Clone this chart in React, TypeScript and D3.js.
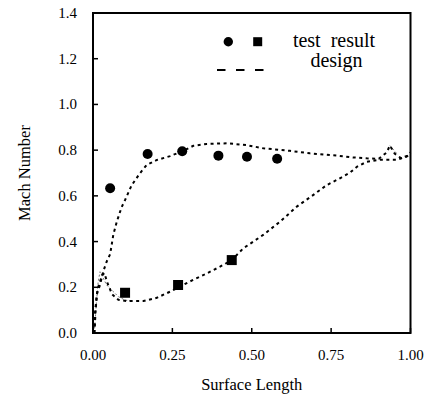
import React from "react";
import * as d3 from "d3";

const xTicks = [0, 0.25, 0.5, 0.75, 1.0];
const yTicks = [0, 0.2, 0.4, 0.6, 0.8, 1.0, 1.2, 1.4];

const testUpperX = [0.054, 0.172, 0.281, 0.395, 0.485, 0.58];
const testUpperY = [0.633, 0.783, 0.795, 0.776, 0.771, 0.762];

const testLowerX = [0.101, 0.268, 0.437];
const testLowerY = [0.176, 0.21, 0.319];

const designUpperX = [0.003, 0.006, 0.012, 0.022, 0.032, 0.043, 0.054, 0.064, 0.075, 0.09, 0.101, 0.122, 0.148, 0.169, 0.201, 0.243, 0.284, 0.316, 0.358, 0.421, 0.484, 0.536, 0.62, 0.683, 0.768, 0.82, 0.862, 0.9, 0.925, 0.935, 0.95, 0.97, 0.99, 1.0];
const designUpperY = [0.0, 0.08, 0.17, 0.21, 0.268, 0.312, 0.345, 0.43, 0.487, 0.55, 0.582, 0.647, 0.699, 0.735, 0.757, 0.774, 0.797, 0.819, 0.827, 0.83, 0.822, 0.808, 0.797, 0.786, 0.776, 0.768, 0.764, 0.762, 0.79, 0.82, 0.785, 0.765, 0.775, 0.79];

const designLowerX = [0.005, 0.008, 0.014, 0.022, 0.03, 0.036, 0.045, 0.06, 0.08, 0.106, 0.159, 0.201, 0.243, 0.264, 0.3, 0.35, 0.4, 0.437, 0.473, 0.536, 0.589, 0.642, 0.689, 0.736, 0.778, 0.809, 0.831, 0.862, 0.904, 0.957, 0.988, 1.0];
const designLowerY = [0.0, 0.1, 0.19, 0.225, 0.255, 0.262, 0.22, 0.17, 0.145, 0.14, 0.14, 0.154, 0.181, 0.196, 0.222, 0.255, 0.29, 0.319, 0.37, 0.429, 0.487, 0.553, 0.599, 0.647, 0.677, 0.701, 0.727, 0.749, 0.758, 0.758, 0.772, 0.785];

const thinLeadX = [0.005, 0.01, 0.016, 0.022, 0.043, 0.08, 0.101, 0.12];
const thinLeadY = [0.02, 0.12, 0.22, 0.268, 0.21, 0.159, 0.144, 0.14];
const thinTrailX = [0.935, 0.96];
const thinTrailY = [0.82, 0.78];

const W = 428;
const H = 398;
const left = 93;
const right = 410.5;
const top = 13;
const bottom = 333;

const FS = { fontFamily: "Liberation Serif" };

export default function App() {
  const x = d3.scaleLinear().domain([0, 1]).range([left, right]);
  const y = d3.scaleLinear().domain([0, 1.4]).range([bottom, top]);
  const line = d3
    .line<[number, number]>()
    .x((d) => x(d[0]))
    .y((d) => y(d[1]));
  const zip = (a: number[], b: number[]) => a.map((v, i) => [v, b[i]] as [number, number]);

  return (
    <svg width={W} height={H} style={{ position: "absolute", left: 0, top: 0, fontFamily: "Liberation Serif" }}>
      <rect x={0} y={0} width={W} height={H} fill="#fff" />
      {/* thin gray dashed */}
      <path d={line(zip(thinLeadX, thinLeadY)) || ""} fill="none" stroke="#777" strokeWidth={1} strokeDasharray="2,2" />
      <path d={line(zip(thinTrailX, thinTrailY)) || ""} fill="none" stroke="#777" strokeWidth={1} strokeDasharray="2,2" />
      {/* design curves */}
      <path d={line(zip(designUpperX, designUpperY)) || ""} fill="none" stroke="#000" strokeWidth={2} strokeDasharray="3,3.5" />
      <path d={line(zip(designLowerX, designLowerY)) || ""} fill="none" stroke="#000" strokeWidth={2} strokeDasharray="3,3.5" />
      {/* test points */}
      {testUpperX.map((v, i) => (
        <circle key={"c" + i} cx={x(v)} cy={y(testUpperY[i])} r={5} fill="#000" />
      ))}
      {testLowerX.map((v, i) => (
        <rect key={"s" + i} x={x(v) - 5} y={y(testLowerY[i]) - 5} width={10} height={10} fill="#000" />
      ))}
      {/* frame */}
      <rect x={left} y={top} width={right - left} height={bottom - top} fill="none" stroke="#000" strokeWidth={2} />
      {yTicks.map((t) => (
        <g key={"yt" + t}>
          <line x1={left} x2={left + 5} y1={y(t)} y2={y(t)} stroke="#000" strokeWidth={1.5} />
          <text x={left - 16} y={y(t) + 5} textAnchor="end" fontSize={15} style={FS}>
            {t.toFixed(1)}
          </text>
        </g>
      ))}
      {xTicks.map((t) => (
        <g key={"xt" + t}>
          <line x1={x(t)} x2={x(t)} y1={bottom} y2={bottom - 5} stroke="#000" strokeWidth={1.5} />
          <text x={x(t)} y={360} textAnchor="middle" fontSize={15} style={FS}>
            {t.toFixed(2)}
          </text>
        </g>
      ))}
      <text x={(left + right) / 2} y={390} textAnchor="middle" fontSize={16.5} style={FS}>
        Surface Length
      </text>
      <text transform={`translate(30, ${(top + bottom) / 2}) rotate(-90)`} textAnchor="middle" fontSize={16.5} style={FS}>
        Mach Number
      </text>
      {/* legend */}
      <circle cx={228.3} cy={41.7} r={4.7} fill="#000" />
      <rect x={253.2} y={37.2} width={9} height={9} fill="#000" />
      <text x={334} y={46.5} textAnchor="middle" fontSize={20} style={FS}>
        {"test\u00a0\u00a0result"}
      </text>
      <line x1={217} x2={264} y1={70} y2={70} stroke="#000" strokeWidth={2} strokeDasharray="8.5,10.5" />
      <text x={336.5} y={67} textAnchor="middle" fontSize={20} style={FS}>
        design
      </text>
    </svg>
  );
}
